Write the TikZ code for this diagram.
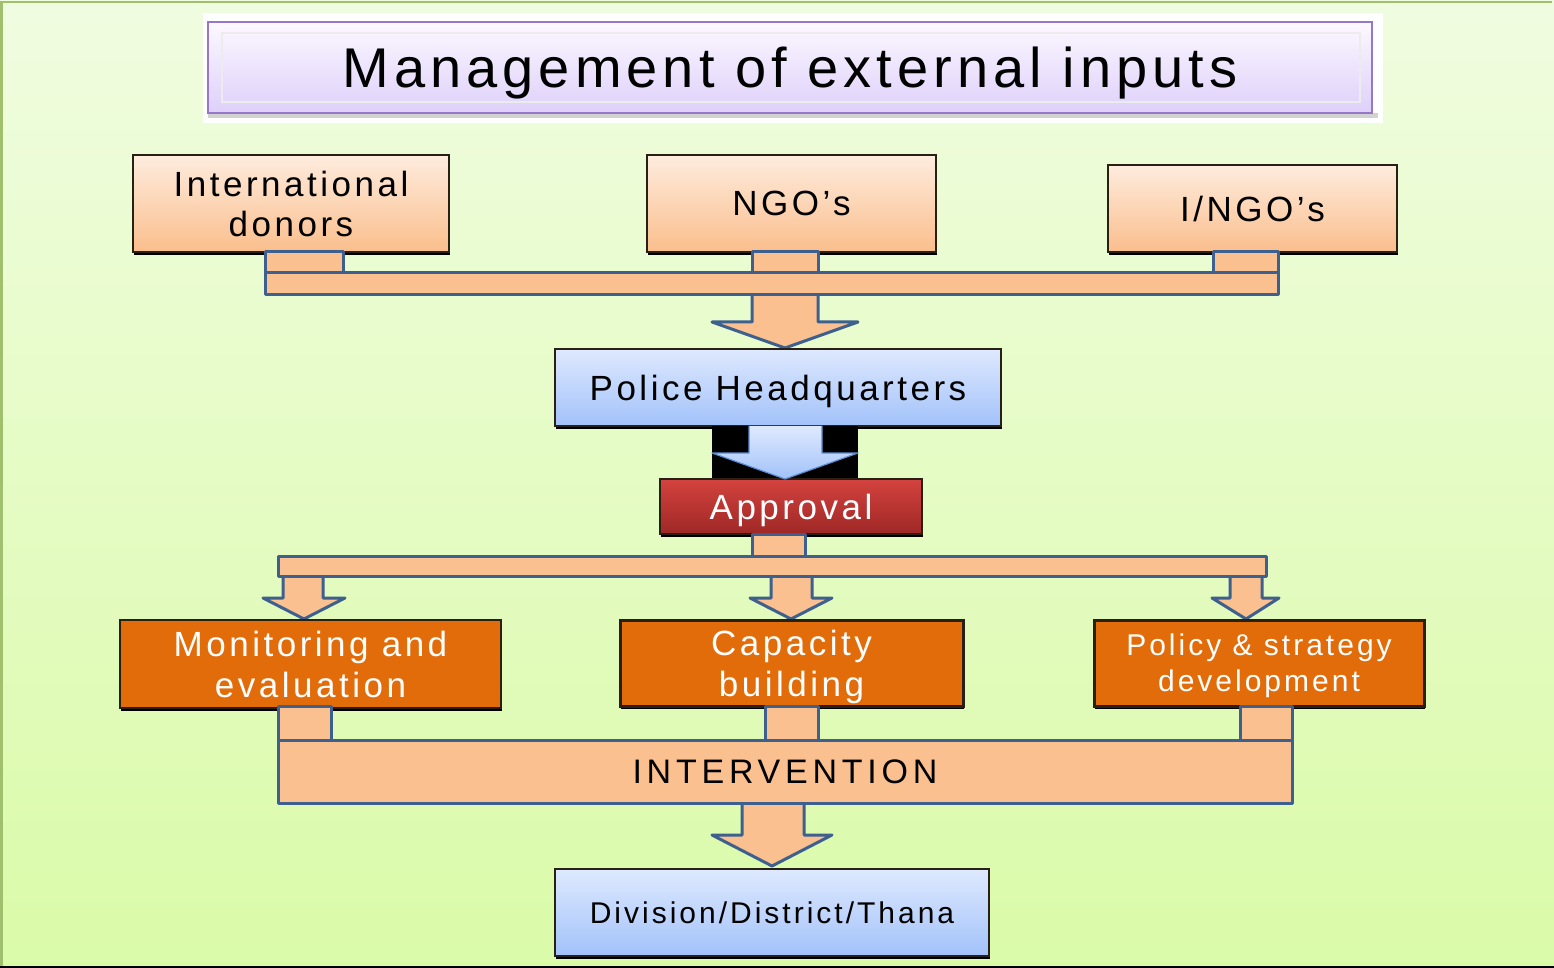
\documentclass[tikz,border=0pt]{standalone}
\usepackage{fontspec}
\setmainfont{Liberation Sans}
\newfontfamily\lsA[LetterSpace=10]{Liberation Sans}
\newfontfamily\lsT[LetterSpace=9]{Liberation Sans}
\newfontfamily\lsI[LetterSpace=14]{Liberation Sans}
\usetikzlibrary{fit,shadows}

\definecolor{bgtop}{RGB}{240,252,224}
\definecolor{bgbot}{RGB}{218,251,168}
\definecolor{bgedge}{RGB}{160,192,110}
\definecolor{peachT}{RGB}{254,236,222}
\definecolor{peachB}{RGB}{250,190,140}
\definecolor{peach}{RGB}{250,192,144}
\definecolor{edge}{RGB}{62,96,142}
\definecolor{blueT}{RGB}{222,233,254}
\definecolor{blueB}{RGB}{162,194,250}
\definecolor{blueE}{RGB}{90,140,210}
\definecolor{redT}{RGB}{212,66,62}
\definecolor{redB}{RGB}{158,40,38}
\definecolor{orng}{RGB}{227,108,10}
\definecolor{lavT}{RGB}{252,248,255}
\definecolor{lavB}{RGB}{222,208,250}
\definecolor{lavE}{RGB}{150,120,200}
\definecolor{darkE}{RGB}{40,32,20}

\begin{document}
\begin{tikzpicture}[x=0.5pt,y=-0.5pt,
  shad/.style={drop shadow={shadow xshift=0.4pt, shadow yshift=-1.5pt, fill=black, opacity=1}},
  box/.style={inner sep=0pt, align=center, shad, draw=darkE, line width=0.6pt},
  peachbox/.style={box, top color=peachT, bottom color=peachB, font=\lsA\fontsize{17.5}{20}\selectfont},
  bluebox/.style={box, top color=blueT, bottom color=blueB},
  redbox/.style={box, top color=redT, bottom color=redB, text=white, font=\lsA\fontsize{17.5}{20}\selectfont},
  orangebox/.style={box, fill=orng, text=white},
  blk/.style={fill=peach, draw=edge, line width=1.5pt, line join=round},
  oneline/.style={text depth=0pt},
]
\useasboundingbox (0,0) rectangle (1554,968);
% background
\shade[top color=bgtop, bottom color=bgbot] (0,0) rectangle (1554,968);
\draw[bgedge, line width=1.2pt] (1.5,966) -- (1.5,2) -- (1552,2);
\fill[black] (0,965.5) rectangle (1554,968);

% title
\fill[white] (203,13) rectangle (1383,123);
\fill[gray!35] (208,113) rectangle (1378,118);
\node[inner sep=0pt, fit={(208,22) (1372,113)}, top color=lavT, bottom color=lavB, draw=lavE, line width=1pt] (titlebox) {};
\draw[white!85!gray, line width=0.8pt] (222,33) rectangle (1360,102);
\node[anchor=base, font=\lsT\fontsize{28}{32}\selectfont] (title) at (790,88) {Management of external inputs};

% top boxes
\node[peachbox, minimum width=158pt, minimum height=48.5pt] (donors) at (291,203.5) {International\\donors};
\node[peachbox, oneline, minimum width=144.5pt, minimum height=48.5pt] (ngo) at (791.5,203.5) {NGO’s};
\node[peachbox, oneline, minimum width=144.5pt, minimum height=43.5pt] (ingo) at (1252.5,208.5) {I/NGO’s};

% collector 1
\draw[blk] (265,252) rectangle (343,273);
\draw[blk] (752,252) rectangle (818,273);
\draw[blk] (1213,252) rectangle (1278,273);
\draw[blk] (752,285) -- (752,322) -- (712,322) -- (785,348) -- (858,322) -- (818,322) -- (818,285) -- cycle;
\draw[blk] (265,273) rectangle (1278,295);

% HQ
\node[bluebox, oneline, minimum width=223pt, minimum height=38.5pt, font=\lsA\fontsize{17.5}{20}\selectfont] (hq) at (778,387.5) {Police Headquarters};
\fill[black] (712,426) rectangle (858,482);
\node[redbox, oneline, minimum width=131pt, minimum height=27.5pt] (approval) at (791,506.5) {Approval};
\draw[top color=blueT, bottom color=blueB, draw=blueE, line width=0.6pt, line join=round]
  (749,426) -- (749,453) -- (712,453) -- (785,479) -- (858,453) -- (822,453) -- (822,426);

% collector 2
\draw[blk] (752,534) rectangle (805,556);
\draw[blk] (283,570) -- (283,598) -- (263,598) -- (304,619) -- (345,598) -- (323,598) -- (323,570) -- cycle;
\draw[blk] (771,570) -- (771,598) -- (750,598) -- (791,619) -- (832,598) -- (812,598) -- (812,570) -- cycle;
\draw[blk] (1230,570) -- (1230,598) -- (1212,598) -- (1246,619) -- (1279,598) -- (1262,598) -- (1262,570) -- cycle;
\draw[blk] (278,556) rectangle (1266,576);

% orange boxes
\node[orangebox, minimum width=190.5pt, minimum height=44pt, font=\lsA\fontsize{17.5}{20.5}\selectfont] (mon) at (310.5,664) {Monitoring and\\evaluation};
\node[orangebox, oneline, line width=1.5pt, minimum width=171.5pt, minimum height=43pt, font=\lsA\fontsize{17.5}{20.5}\selectfont] (cap) at (791.5,663) {Capacity\\building};
\node[orangebox, oneline, line width=1.5pt, minimum width=165pt, minimum height=43pt, font=\lsA\fontsize{15}{18}\selectfont] (pol) at (1259,663) {Policy \& strategy\\development};

% collector 3
\draw[blk] (278,706) rectangle (331,740);
\draw[blk] (765,706) rectangle (818,740);
\draw[blk] (1240,706) rectangle (1292,740);
\draw[blk] (742,795) -- (742,835) -- (712,835) -- (772,866) -- (832,835) -- (804,835) -- (804,795) -- cycle;
\node[blk, oneline, inner sep=0pt, minimum width=507pt, minimum height=31.5pt, font=\lsI\fontsize{17}{20}\selectfont] (interv) at (785,771.5) {INTERVENTION};

% bottom
\node[bluebox, oneline, minimum width=217pt, minimum height=43.5pt, font=\lsA\fontsize{15}{18}\selectfont] (div) at (772,912.5) {Division/District/Thana};
\end{tikzpicture}
\end{document}
